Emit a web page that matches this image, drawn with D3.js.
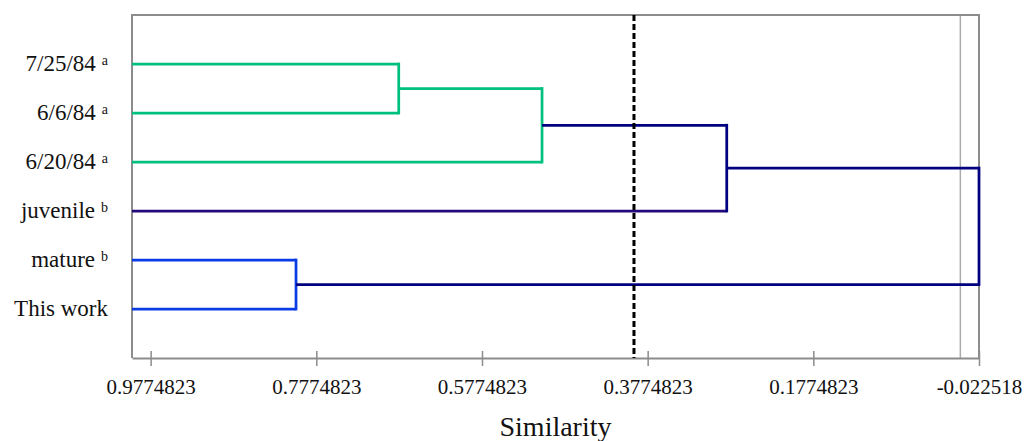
<!DOCTYPE html>
<html>
<head>
<meta charset="utf-8">
<script src="https://cdn.jsdelivr.net/npm/d3@7"></script>
<style>
  body { margin: 0; background: #fff; }
</style>
</head>
<body>
<div id="chart"></div>
<script>
// Leaves, top to bottom
const leafNames = ["7/25/84", "6/6/84", "6/20/84", "juvenile", "mature", "This work"];
const leafNotes = ["a", "a", "a", "b", "b", ""];
const leafColors = ["#00c07f", "#00c07f", "#00c07f", "#22087a", "#0a3ce6", "#0a3ce6"];

// Merges: child ids (leaves 0-5, merged clusters 6+) and similarity of each join
const mergePairs = [[0, 1], [6, 2], [7, 3], [4, 5], [8, 9]];
const mergeSimilarity = [0.678, 0.505, 0.282, 0.802, -0.0225177];
const mergeColors = ["#00c07f", "#00c07f", "#000080", "#0a3ce6", "#000080"];

// Axis
const tickValues = [0.9774823, 0.7774823, 0.5774823, 0.3774823, 0.1774823, -0.0225177];
const tickLabels = ["0.9774823", "0.7774823", "0.5774823", "0.3774823", "0.1774823", "-0.022518"];
const cutSimilarity = 0.394;
const zeroSimilarity = 0;

const width = 1024, height = 441;
const margin = {top: 15, right: 45, bottom: 83, left: 132};
const serif = "'Liberation Serif', 'DejaVu Serif', serif";

const svg = d3.select("#chart").append("svg")
    .attr("width", width)
    .attr("height", height)
    .attr("font-family", serif);

const x = d3.scaleLinear()
    .domain([1, -0.0225177])
    .range([margin.left, width - margin.right]);

const y = d3.scalePoint()
    .domain(leafNames)
    .range([margin.top, height - margin.bottom])
    .padding(1);

const frameColor = "#8c8c8c";

// zero reference line
svg.append("line")
    .attr("x1", x(zeroSimilarity)).attr("x2", x(zeroSimilarity))
    .attr("y1", margin.top).attr("y2", height - margin.bottom)
    .attr("stroke", "#ababab").attr("stroke-width", 1.5);

// frame: top, left, right
svg.append("path")
    .attr("d", `M${x.range()[0]},${height - margin.bottom}V${margin.top}H${x.range()[1]}V${height - margin.bottom}`)
    .attr("fill", "none")
    .attr("stroke", frameColor)
    .attr("stroke-width", 2);

// bottom axis
const axis = svg.append("g")
    .attr("transform", `translate(0,${height - margin.bottom})`)
    .call(d3.axisBottom(x)
        .tickValues(tickValues)
        .tickFormat((d, i) => tickLabels[i])
        .tickSizeOuter(0)
        .tickSizeInner(8)
        .tickPadding(13))
    .attr("font-family", serif)
    .attr("font-size", 21);
axis.select(".domain").attr("stroke", frameColor).attr("stroke-width", 2);
axis.selectAll(".tick line")
    .attr("y1", -7)
    .attr("stroke", frameColor)
    .attr("stroke-width", 1.5);
axis.selectAll(".tick text").attr("fill", "#111");

// dendrogram geometry
const nodeY = leafNames.map(d => y(d));
const nodeX = leafNames.map(() => x(x.domain()[0]));
const links = svg.append("g").attr("fill", "none").attr("stroke-width", 2.75);

mergePairs.forEach((pair, i) => {
    const id = leafNames.length + i;
    const mx = x(mergeSimilarity[i]);
    const [a, b] = pair;
    pair.forEach(c => {
        links.append("line")
            .attr("x1", nodeX[c]).attr("x2", mx)
            .attr("y1", nodeY[c]).attr("y2", nodeY[c])
            .attr("stroke", c < leafNames.length ? leafColors[c] : mergeColors[i]);
    });
    links.append("line")
        .attr("x1", mx).attr("x2", mx)
        .attr("y1", nodeY[a]).attr("y2", nodeY[b])
        .attr("stroke", mergeColors[i])
        .attr("stroke-linecap", "square");
    nodeX[id] = mx;
    nodeY[id] = (nodeY[a] + nodeY[b]) / 2;
});

// cut line
svg.append("line")
    .attr("x1", x(cutSimilarity)).attr("x2", x(cutSimilarity))
    .attr("y1", margin.top).attr("y2", height - margin.bottom)
    .attr("stroke", "#000")
    .attr("stroke-width", 3)
    .attr("stroke-dasharray", "6,3");

// leaf labels
const labels = svg.append("g").attr("text-anchor", "end").attr("fill", "#111");
leafNames.forEach((name, i) => {
    const t = labels.append("text")
        .attr("x", margin.left - 24)
        .attr("y", y(name) + 7)
        .attr("font-size", 23);
    t.append("tspan").text(name);
    if (leafNotes[i]) {
        t.append("tspan")
            .attr("dx", 6).attr("dy", -6)
            .attr("font-size", 14)
            .text(leafNotes[i]);
    }
});

// axis title
svg.append("text")
    .attr("x", (x.range()[0] + x.range()[1]) / 2)
    .attr("y", 436)
    .attr("text-anchor", "middle")
    .attr("fill", "#111")
    .attr("font-size", 28)
    .text("Similarity");
</script>
</body>
</html>
